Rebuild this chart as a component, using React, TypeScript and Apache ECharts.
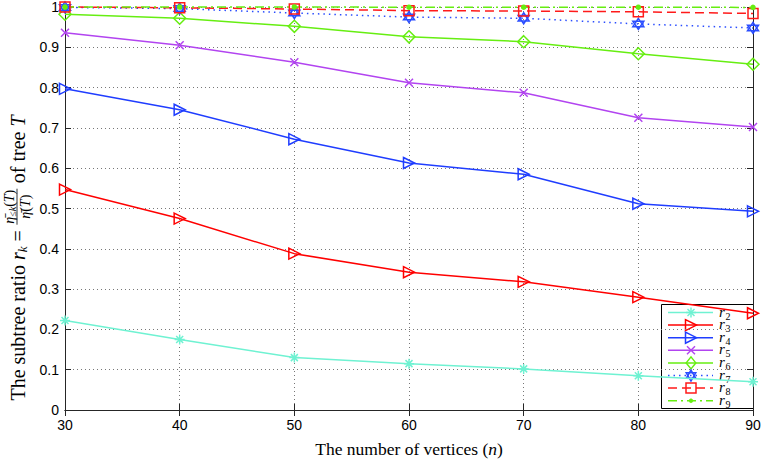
import React, { useEffect, useRef } from "react";
import * as echarts from "echarts";

const xValues = [30, 40, 50, 60, 70, 80, 90];
const r2 = [0.222, 0.175, 0.13, 0.115, 0.102, 0.085, 0.07];
const r3 = [0.547, 0.475, 0.388, 0.342, 0.318, 0.28, 0.24];
const r4 = [0.797, 0.745, 0.672, 0.613, 0.585, 0.512, 0.493];
const r5 = [0.936, 0.905, 0.863, 0.812, 0.787, 0.725, 0.702];
const r6 = [0.982, 0.972, 0.952, 0.926, 0.914, 0.884, 0.858];
const r7 = [0.999, 0.996, 0.985, 0.975, 0.972, 0.958, 0.948];
const r8 = [1.0, 0.998, 0.995, 0.991, 0.99, 0.988, 0.984];
const r9 = [1.0, 1.0, 1.0, 0.9995, 0.9995, 0.9995, 0.999];
const yTicks = [0, 0.1, 0.2, 0.3, 0.4, 0.5, 0.6, 0.7, 0.8, 0.9, 1];
const seriesNames = ["r2", "r3", "r4", "r5", "r6", "r7", "r8", "r9"];

const SERIF = '"Liberation Serif", "DejaVu Serif", serif';
const SANS = '"Liberation Sans", Arial, sans-serif';

const SYM_ASTERISK = "path://M5,0L5,10M0,5L10,5M1.5,1.5L8.5,8.5M8.5,1.5L1.5,8.5";
const SYM_TRI_RIGHT = "path://M0,0L10,5L0,10Z";
const SYM_X = "path://M0,0L10,10M10,0L0,10";
const SYM_HEX = "path://M5,0L9.33,7.5L0.67,7.5ZM5,10L0.67,2.5L9.33,2.5Z";

type SeriesDef = {
  name: string;
  values: number[];
  color: string;
  symbol: string;
  kind: string;
  size: number;
  dash: any;
  filled: boolean;
};

const colors = ["#6ff2d2", "#ff0000", "#1f3dff", "#b244f0", "#66ee11", "#2a4dff", "#ff1a1a", "#66ee11"];
const defs: SeriesDef[] = [
  { name: seriesNames[0], values: r2, color: colors[0], symbol: SYM_ASTERISK, kind: "asterisk", size: 10, dash: "solid", filled: false },
  { name: seriesNames[1], values: r3, color: colors[1], symbol: SYM_TRI_RIGHT, kind: "tri", size: 11, dash: "solid", filled: false },
  { name: seriesNames[2], values: r4, color: colors[2], symbol: SYM_TRI_RIGHT, kind: "tri", size: 11, dash: "solid", filled: false },
  { name: seriesNames[3], values: r5, color: colors[3], symbol: SYM_X, kind: "x", size: 8, dash: "solid", filled: false },
  { name: seriesNames[4], values: r6, color: colors[4], symbol: "diamond", kind: "diamond", size: 12, dash: "solid", filled: false },
  { name: seriesNames[5], values: r7, color: colors[5], symbol: SYM_HEX, kind: "hex", size: 11, dash: [1.5, 4], filled: false },
  { name: seriesNames[6], values: r8, color: colors[6], symbol: "rect", kind: "rect", size: 10, dash: [9, 5], filled: false },
  { name: seriesNames[7], values: r9, color: colors[7], symbol: "circle", kind: "dot", size: 4, dash: [9, 4, 2, 4], filled: true },
];

let measureCtx: CanvasRenderingContext2D | null = null;
function tw(text: string, font: string): number {
  if (!measureCtx) measureCtx = document.createElement("canvas").getContext("2d");
  if (!measureCtx) return text.length * 8;
  measureCtx.font = font;
  return measureCtx.measureText(text).width;
}

function buildYTitle(cx: number, cy: number) {
  const size = 20;
  const F = `${size}px ${SERIF}`;
  const FI = `italic ${size}px ${SERIF}`;
  const FS = `italic 13px ${SERIF}`;
  const FN = `14px ${SERIF}`;
  const FNI = `italic 14px ${SERIF}`;
  const FNS = `italic 10px ${SERIF}`;

  type Part = { t: string; font: string; dy: number };
  const before: Part[] = [
    { t: "The subtree ratio ", font: F, dy: 0 },
    { t: "r", font: FI, dy: 0 },
    { t: "k", font: FS, dy: 4 },
    { t: " = ", font: F, dy: 0 },
  ];
  const after: Part[] = [
    { t: " of tree ", font: F, dy: 0 },
    { t: "T", font: FI, dy: 0 },
  ];
  const num: Part[] = [
    { t: "η̄", font: FNI, dy: 0 },
    { t: "≤k", font: FNS, dy: 3 },
    { t: "(", font: FN, dy: 0 },
    { t: "T", font: FNI, dy: 0 },
    { t: ")", font: FN, dy: 0 },
  ];
  const den: Part[] = [
    { t: "η̄", font: FNI, dy: 0 },
    { t: "(", font: FN, dy: 0 },
    { t: "T", font: FNI, dy: 0 },
    { t: ")", font: FN, dy: 0 },
  ];
  const wOf = (ps: Part[]) => ps.reduce((s, p) => s + tw(p.t, p.font), 0);
  const numW = wOf(num);
  const denW = wOf(den);
  const fracW = Math.max(numW, denW) + 3;
  const total = wOf(before) + fracW + wOf(after);

  const children: any[] = [];
  let x = -total / 2;
  const place = (ps: Part[], x0: number, y0: number) => {
    let xx = x0;
    for (const p of ps) {
      children.push({
        type: "text",
        x: xx,
        y: y0 + p.dy,
        style: { text: p.t, font: p.font, fill: "#000", align: "left", verticalAlign: "middle", lineHeight: 12 },
      });
      xx += tw(p.t, p.font);
    }
    return xx;
  };
  x = place(before, x, 0);
  const barY = -1;
  place(num, x + (fracW - numW) / 2, barY - 7.5);
  place(den, x + (fracW - denW) / 2, barY + 8.5);
  children.push({
    type: "line",
    shape: { x1: x + 0.5, y1: barY, x2: x + fracW - 0.5, y2: barY },
    style: { stroke: "#000", lineWidth: 0.8 },
  });
  x += fracW;
  place(after, x, 0);

  return { type: "group", x: cx, y: cy, rotation: Math.PI / 2, children };
}

function legendSymbol(d: SeriesDef, cx: number, cy: number): any[] {
  const st = { stroke: d.color, fill: "none", lineWidth: 1.5 };
  const h = d.size / 2;
  const line = (x1: number, y1: number, x2: number, y2: number) => ({
    type: "line",
    shape: { x1: cx + x1, y1: cy + y1, x2: cx + x2, y2: cy + y2 },
    style: st,
  });
  switch (d.kind) {
    case "asterisk":
      return [line(0, -h, 0, h), line(-h, 0, h, 0), line(-h * 0.7, -h * 0.7, h * 0.7, h * 0.7), line(h * 0.7, -h * 0.7, -h * 0.7, h * 0.7)];
    case "tri":
      return [{ type: "polygon", shape: { points: [[cx - h, cy - h], [cx + h, cy], [cx - h, cy + h]] }, style: st }];
    case "x":
      return [line(-h, -h, h, h), line(h, -h, -h, h)];
    case "diamond":
      return [{ type: "polygon", shape: { points: [[cx, cy - h], [cx + h * 0.8, cy], [cx, cy + h], [cx - h * 0.8, cy]] }, style: st }];
    case "hex":
      return [
        { type: "polygon", shape: { points: [[cx, cy - h], [cx + h * 0.866, cy + h * 0.5], [cx - h * 0.866, cy + h * 0.5]] }, style: st },
        { type: "polygon", shape: { points: [[cx, cy + h], [cx - h * 0.866, cy - h * 0.5], [cx + h * 0.866, cy - h * 0.5]] }, style: st },
      ];
    case "rect":
      return [{ type: "rect", shape: { x: cx - h, y: cy - h, width: d.size, height: d.size }, style: st }];
    default:
      return [{ type: "circle", shape: { cx, cy, r: 2 }, style: { fill: d.color, stroke: d.color, lineWidth: 0.5 } }];
  }
}

function buildLegend() {
  const left = 661;
  const top = 304;
  const w = 92;
  const hgt = 104;
  const children: any[] = [
    {
      type: "rect",
      shape: { x: left + 0.5, y: top + 0.5, width: w, height: hgt },
      style: { fill: "#fff", stroke: "#000", lineWidth: 1 },
    },
  ];
  defs.forEach((d, i) => {
    const y = top + 8.5 + i * 12.6;
    children.push({
      type: "line",
      shape: { x1: left + 7, y1: y, x2: left + 52, y2: y },
      style: { stroke: d.color, lineWidth: 1.5, lineDash: Array.isArray(d.dash) ? d.dash : null },
    });
    children.push(...legendSymbol(d, left + 30, y));
    children.push({
      type: "text",
      x: left + 58,
      y: y - 1,
      style: { text: "r", font: `italic 15px ${SERIF}`, fill: "#000", align: "left", verticalAlign: "middle", lineHeight: 10 },
    });
    children.push({
      type: "text",
      x: left + 64.5,
      y: y + 3.5,
      style: { text: d.name.slice(1), font: `10px ${SERIF}`, fill: "#000", align: "left", verticalAlign: "middle", lineHeight: 6 },
    });
  });
  return { type: "group", z: 100, children };
}

export default function App() {
  const ref = useRef<HTMLDivElement>(null);

  useEffect(() => {
    if (!ref.current) return;
    const chart = echarts.init(ref.current, undefined, { renderer: "svg" });
    const axisCommon = { min: 30, max: 90, interval: 10 };
    const yCommon = { min: yTicks[0], max: yTicks[yTicks.length - 1], interval: 0.1 };
    const axisLine = { show: true, lineStyle: { color: "#262626", width: 1 } };
    const axisTick = { show: true, inside: true, length: 6, lineStyle: { color: "#262626" } };
    const splitLine = { show: true, lineStyle: { color: "#777", type: [1, 3], width: 1 } };

    const option: any = {
      animation: false,
      backgroundColor: "#fff",
      grid: { left: 65, right: 11, top: 7, bottom: 47, containLabel: false },
      xAxis: [
        {
          type: "value",
          ...axisCommon,
          position: "bottom",
          axisLine,
          axisTick,
          axisLabel: { color: "#000", fontFamily: SANS, fontSize: 14, margin: 8 },
          splitLine,
          name: "{a|The number of vertices (}{b|n}{a|)}",
          nameLocation: "middle",
          nameGap: 30,
          nameTextStyle: {
            rich: {
              a: { fontFamily: SERIF, fontSize: 17.5, color: "#000" },
              b: { fontFamily: SERIF, fontSize: 17.5, color: "#000", fontStyle: "italic" },
            },
          },
        },
        {
          type: "value",
          ...axisCommon,
          position: "top",
          axisLine,
          axisTick,
          axisLabel: { show: false },
          splitLine: { show: false },
        },
      ],
      yAxis: [
        {
          type: "value",
          ...yCommon,
          position: "left",
          axisLine,
          axisTick,
          axisLabel: { color: "#000", fontFamily: SANS, fontSize: 14, margin: 6 },
          splitLine,
        },
        {
          type: "value",
          ...yCommon,
          position: "right",
          axisLine,
          axisTick,
          axisLabel: { show: false },
          splitLine: { show: false },
        },
      ],
      graphic: [buildYTitle(18, 258), buildLegend()],
      series: defs.map((d) => ({
        name: d.name,
        type: "line",
        data: xValues.map((x, i) => [x, d.values[i]]),
        symbol: d.symbol,
        symbolSize: d.size,
        showSymbol: true,
        clip: false,
        lineStyle: { color: d.color, width: 1.5, type: d.dash },
        itemStyle: { color: d.filled ? d.color : "none", borderColor: d.color, borderWidth: 1.5 },
        emphasis: { disabled: true },
      })),
    };
    chart.setOption(option);
    return () => chart.dispose();
  }, []);

  return <div ref={ref} style={{ position: "absolute", left: 0, top: 0, width: 764, height: 463 }} />;
}
